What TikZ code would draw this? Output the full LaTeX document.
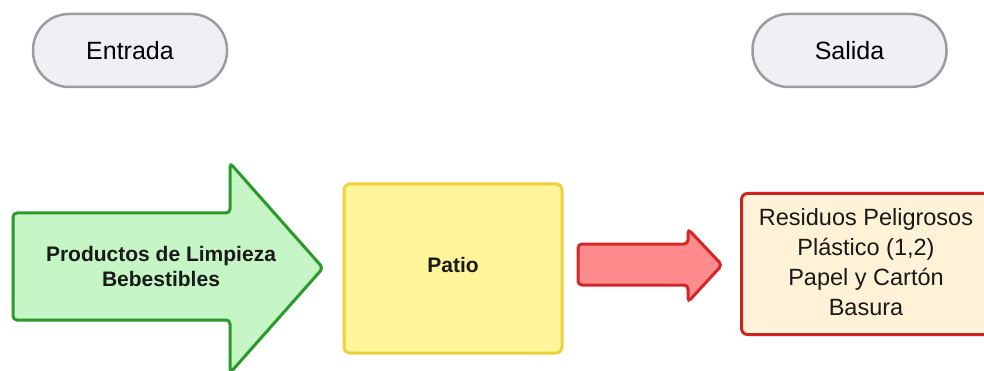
\documentclass[tikz,border=0pt]{standalone}
\usepackage{fontspec}
\setmainfont{Liberation Sans}
\begin{document}
\begin{tikzpicture}[x=1pt,y=-1pt,
  pill/.style={draw=pillborder, fill=pillfill, line width=2.5pt, rounded corners=36pt,
    minimum width=194pt, minimum height=73pt, font=\fontsize{25}{30}\selectfont, inner sep=0pt},
  boldlbl/.style={font=\fontsize{21}{25}\selectfont\bfseries, align=center, text=black!90},
  outlbl/.style={font=\fontsize{23.5}{30}\selectfont, align=center, text=black!90}]
\definecolor{pillborder}{HTML}{9A9CA0}
\definecolor{pillfill}{HTML}{EEF0F4}
\definecolor{gborder}{HTML}{2A9A2A}
\definecolor{gfill}{HTML}{C6F5C6}
\definecolor{yborder}{HTML}{EFCF3A}
\definecolor{yfill}{HTML}{FFF59B}
\definecolor{rborder}{HTML}{D42828}
\definecolor{rfill}{HTML}{FF8C8C}
\definecolor{ofill}{HTML}{FFF2D6}
\definecolor{oborder}{HTML}{CC2424}
\useasboundingbox (0,0) rectangle (984,371);
\node[pill] (entrada) at (130,50.5) {Entrada};
\node[pill] (salida) at (849.5,50.5) {Salida};
% green arrow
\draw[draw=gborder, fill=gfill, line width=3pt, rounded corners=4pt]
  (13,213) -- (230,213) -- (230,163) -- (323,268) -- (230,373) -- (230,320) -- (13,320) -- cycle;
\node[boldlbl] (entradaLbl) at (161,266) {Productos de Limpieza\\Bebestibles};
% yellow box
\node[draw=yborder, fill=yfill, line width=3pt, rounded corners=6pt,
  minimum width=218pt, minimum height=169pt, boldlbl] (patio) at (453,268.5) {};
\node[boldlbl] (patioLbl) at (453,265) {Patio};
% red arrow
\draw[draw=rborder, fill=rfill, line width=3pt, rounded corners=4pt]
  (578,244) -- (688,244) -- (688,229) -- (722,265) -- (688,302) -- (688,285) -- (578,285) -- cycle;
% output box
\node[draw=oborder, fill=ofill, line width=3pt, rounded corners=6pt,
  minimum width=260pt, minimum height=141pt, anchor=west] (salidaBox) at (740,264) {};
\node[outlbl] (salidaLbl) at (866,262) {Residuos Peligrosos\\Plástico (1,2)\\Papel y Cartón\\Basura};
\end{tikzpicture}
\end{document}
